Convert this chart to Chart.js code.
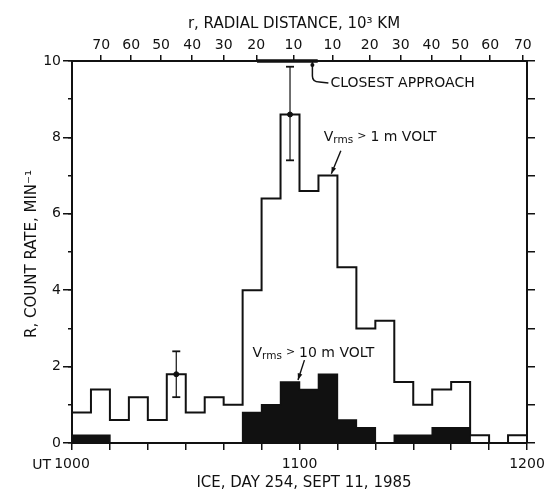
<!DOCTYPE html>
<html>
<head>
<meta charset="utf-8">
<script src="https://cdn.jsdelivr.net/npm/chart.js@4"></script>
<style>
  html, body { margin: 0; padding: 0; background: #fff; }
  canvas { display: block; }
</style>
</head>
<body>
<canvas id="chart" width="547" height="496"></canvas>
<script>
// minutes after 1000 UT, start of each 5-minute counting bin
const binStart = [0, 5, 10, 15, 20, 25, 30, 35, 40, 45, 50, 55,
                  60, 65, 70, 75, 80, 85, 90, 95, 100, 105, 110, 115];
const binEnd = 120;

// count rate R (per minute)
const rateOver1mV  = [0.8, 1.4, 0.6, 1.2, 0.6, 1.8, 0.8, 1.2, 1.0, 4.0, 6.4, 8.6,
                      6.6, 7.0, 4.6, 3.0, 3.2, 1.6, 1.0, 1.4, 1.6, 0.2, 0, 0.2];
const rateOver10mV = [0.2, 0.2, 0, 0, 0, 0, 0, 0, 0, 0.8, 1.0, 1.6,
                      1.4, 1.8, 0.6, 0.4, 0, 0.2, 0.2, 0.4, 0.4, 0, 0, 0];

// error bars
const errX    = [27.5, 57.5];
const errMid  = [1.8, 8.6];
const errLow  = [1.2, 7.4];
const errHigh = [2.4, 9.85];

// bottom axis labels
const bottomLabelMinutes = [0, 60, 120];
const bottomLabelText = ['1000', '1100', '1200'];

// top axis: radial distance (10^3 km)
const topTickMinutes = [7.7, 15.6, 23.5, 31.7, 40.0, 48.6, 58.4, 68.7, 78.5, 86.7, 94.8, 102.4, 110.3, 118.9];
const topTickLabels = ['70', '60', '50', '40', '30', '20', '10', '10', '20', '30', '40', '50', '60', '70'];
const closestApproach = 63.4;
const topThickSpan = [48.8, 64.8];

const ink = '#111';
const fontFamily = '"DejaVu Sans", sans-serif';

Chart.defaults.font.family = fontFamily;
Chart.defaults.font.size = 14;
Chart.defaults.color = ink;

function steps(values) {
  const pts = binStart.map((x, i) => ({ x: x, y: values[i] }));
  pts.push({ x: binEnd, y: values[values.length - 1] });
  return pts;
}

const errorBarSets = errX.map((ex, i) => ({
  type: 'line',
  data: [{ x: ex, y: errLow[i] }, { x: ex, y: errHigh[i] }],
  borderColor: ink,
  borderWidth: 1.2,
  pointStyle: 'line',
  pointRadius: 4,
  pointBorderWidth: 1.8,
  pointBorderColor: ink,
  order: 0
}));

const axisGrid = (len) => ({
  drawOnChartArea: false,
  drawTicks: true,
  tickLength: len,
  color: ink,
  lineWidth: 1.5
});
const axisBorder = { display: true, color: ink, width: 2 };

// horizontal axes: fixed height, no extra side padding for end labels
const fixHeight = (h) => (s) => {
  s.height = h;
  s.paddingLeft = 0;
  s.paddingRight = 0;
};

const annotations = {
  id: 'annotations',
  afterDraw(chart) {
    const { ctx, chartArea } = chart;
    const x = chart.scales.x;
    const y = chart.scales.y;
    ctx.save();
    ctx.fillStyle = ink;
    ctx.strokeStyle = ink;

    // titles
    ctx.font = '15px ' + fontFamily;
    ctx.textAlign = 'center';
    ctx.textBaseline = 'middle';
    ctx.fillText('r, RADIAL DISTANCE, 10\u00b3 KM', 294, 24);
    ctx.fillText('ICE, DAY 254, SEPT 11, 1985', 304, 483);
    ctx.save();
    ctx.translate(32, 254);
    ctx.rotate(-Math.PI / 2);
    ctx.fillText('R, COUNT RATE, MIN\u207b\u00b9', 0, 0);
    ctx.restore();

    ctx.font = '14px ' + fontFamily;
    ctx.textAlign = 'right';
    ctx.fillText('UT', 51, 465);

    // thick stretch of the top axis
    ctx.lineWidth = 3.5;
    ctx.beginPath();
    ctx.moveTo(x.getPixelForValue(topThickSpan[0]), chartArea.top);
    ctx.lineTo(x.getPixelForValue(topThickSpan[1]), chartArea.top);
    ctx.stroke();

    // closest approach marker
    const cx = x.getPixelForValue(closestApproach);
    const t = chartArea.top;
    ctx.lineWidth = 1.5;
    ctx.beginPath();
    ctx.moveTo(cx, t);
    ctx.lineTo(cx, t + 15);
    ctx.quadraticCurveTo(cx, t + 21, cx + 7, t + 21);
    ctx.lineTo(cx + 16, t + 22);
    ctx.stroke();
    ctx.beginPath();
    ctx.arc(cx, t + 4, 2, 0, Math.PI * 2);
    ctx.fill();
    ctx.textAlign = 'left';
    ctx.fillText('CLOSEST APPROACH', cx + 18, t + 22);

    // V_rms labels with arrows
    function vrms(minute, value, rest) {
      let px = x.getPixelForValue(minute);
      const py = y.getPixelForValue(value);
      ctx.textAlign = 'left';
      ctx.font = '14px ' + fontFamily;
      ctx.fillText('V', px, py);
      px += ctx.measureText('V').width;
      ctx.font = '10.5px ' + fontFamily;
      ctx.fillText('rms', px, py + 3);
      px += ctx.measureText('rms').width + 4;
      ctx.font = '11px ' + fontFamily;
      ctx.fillText('>', px, py - 1);
      px += ctx.measureText('>').width + 4;
      ctx.font = '14px ' + fontFamily;
      ctx.fillText(rest, px, py);
    }
    function arrow(m0, v0, m1, v1) {
      const x0 = x.getPixelForValue(m0), y0 = y.getPixelForValue(v0);
      const x1 = x.getPixelForValue(m1), y1 = y.getPixelForValue(v1);
      const a = Math.atan2(y1 - y0, x1 - x0);
      ctx.lineWidth = 1.4;
      ctx.beginPath();
      ctx.moveTo(x0, y0);
      ctx.lineTo(x1, y1);
      ctx.stroke();
      ctx.beginPath();
      ctx.moveTo(x1, y1);
      ctx.lineTo(x1 - 7 * Math.cos(a - 0.35), y1 - 7 * Math.sin(a - 0.35));
      ctx.lineTo(x1 - 7 * Math.cos(a + 0.35), y1 - 7 * Math.sin(a + 0.35));
      ctx.closePath();
      ctx.fill();
    }
    vrms(66.4, 8.0, '1 m VOLT');
    arrow(70.9, 7.65, 68.4, 7.05);
    vrms(47.6, 2.35, '10 m VOLT');
    arrow(61.3, 2.17, 59.6, 1.65);

    ctx.restore();
  }
};

new Chart(document.getElementById('chart'), {
  type: 'line',
  data: {
    datasets: [
      ...errorBarSets,
      {
        label: 'error bar centre',
        data: errX.map((ex, i) => ({ x: ex, y: errMid[i] })),
        showLine: false,
        pointStyle: 'circle',
        pointRadius: 2.5,
        pointBackgroundColor: ink,
        pointBorderColor: ink,
        order: 0
      },
      {
        label: 'Vrms > 1 m VOLT',
        data: steps(rateOver1mV),
        stepped: 'before',
        borderColor: ink,
        borderWidth: 2,
        fill: false,
        pointRadius: 0,
        order: 2
      },
      {
        label: 'Vrms > 10 m VOLT',
        data: steps(rateOver10mV),
        stepped: 'before',
        borderColor: ink,
        backgroundColor: ink,
        borderWidth: 1.5,
        fill: 'origin',
        pointRadius: 0,
        order: 1
      }
    ]
  },
  options: {
    responsive: false,
    animation: false,
    devicePixelRatio: 1,
    layout: { padding: 0 },
    plugins: { legend: { display: false }, tooltip: { enabled: false } },
    scales: {
      x: {
        type: 'linear', position: 'bottom', min: 0, max: 120,
        afterFit: fixHeight(53),
        ticks: {
          stepSize: 10, autoSkip: false, maxRotation: 0, padding: 6,
          callback: (v) => {
            const i = bottomLabelMinutes.indexOf(v);
            return i < 0 ? '' : bottomLabelText[i];
          }
        },
        grid: axisGrid(7),
        border: axisBorder
      },
      xTop: {
        type: 'linear', position: 'top', min: 0, max: 120,
        afterBuildTicks: (s) => { s.ticks = topTickMinutes.map((v) => ({ value: v })); },
        afterFit: fixHeight(61),
        ticks: {
          autoSkip: false, maxRotation: 0, padding: 1,
          callback: (v, i) => topTickLabels[i]
        },
        grid: axisGrid(6),
        border: axisBorder
      },
      y: {
        position: 'left', min: 0, max: 10, weight: 2,
        afterFit: (s) => { s.width = 72; },
        ticks: { stepSize: 2, padding: 2 },
        grid: axisGrid(9),
        border: axisBorder
      },
      yMinor: {
        position: 'left', min: 0, max: 10, weight: 0,
        afterFit: (s) => { s.width = 0; },
        ticks: { display: false, stepSize: 1 },
        grid: axisGrid(4),
        border: { display: false }
      },
      yRight: {
        position: 'right', min: 0, max: 10,
        afterFit: (s) => { s.width = 20; },
        ticks: { display: false, stepSize: 1 },
        grid: axisGrid(8),
        border: axisBorder
      }
    }
  },
  plugins: [annotations]
});
</script>
</body>
</html>
